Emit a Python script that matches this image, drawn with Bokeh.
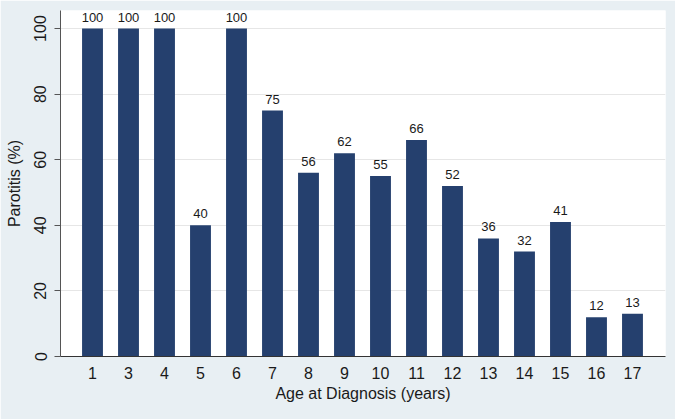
from bokeh.plotting import figure
from bokeh.models import ColumnDataSource, Range1d, FixedTicker, LabelSet
from bokeh.core.properties import value
from bokeh.embed import file_html
from bokeh.resources import INLINE

# Data
ages = ["1", "3", "4", "5", "6", "7", "8", "9", "10", "11", "12", "13", "14", "15", "16", "17"]
parotitis = [100, 100, 100, 40, 100, 75, 56, 62, 55, 66, 52, 36, 32, 41, 12, 13]
y_ticks = [0, 20, 40, 60, 80, 100]

positions = list(range(1, len(ages) + 1))
src = ColumnDataSource(dict(x=positions, y=parotitis, lab=[str(v) for v in parotitis]))

BG = "#E8EFF3"
BAR = "#25406E"
FONT = "Liberation Sans"

p = figure(width=675, height=419, output_backend="svg", toolbar_location=None,
           x_range=Range1d(0.111, 16.917), y_range=Range1d(0, 105.5),
           min_border_left=60, min_border_right=10, min_border_top=10, min_border_bottom=63)
p.background_fill_color = "white"
p.border_fill_color = BG
p.outline_line_color = None

p.vbar(x="x", top="y", width=0.58, source=src, fill_color=BAR, line_color=None)

labels = LabelSet(x="x", y="y", text="lab", source=src, text_align="center",
                  text_baseline="alphabetic", y_offset=7, text_font=value(FONT),
                  text_font_size="13px", text_color="#1a1a1a")
p.add_layout(labels)

# X axis
p.xaxis.ticker = FixedTicker(ticks=positions)
p.xaxis.major_label_overrides = {pos: a for pos, a in zip(positions, ages)}
p.xaxis.major_tick_line_color = None
p.xaxis.minor_tick_line_color = None
p.xaxis.axis_line_color = "#333333"
p.xaxis.major_label_text_font = FONT
p.xaxis.major_label_text_font_size = "16px"
p.xaxis.major_label_text_color = "#1a1a1a"
p.xaxis.major_label_standoff = 4
p.xaxis.axis_label = "Age at Diagnosis (years)"
p.xaxis.axis_label_text_font = FONT
p.xaxis.axis_label_text_font_size = "16px"
p.xaxis.axis_label_text_font_style = "normal"
p.xaxis.axis_label_text_color = "#1a1a1a"
p.xaxis.axis_label_standoff = 3

# Y axis
p.yaxis.ticker = FixedTicker(ticks=y_ticks)
p.yaxis.major_label_orientation = "vertical"
p.yaxis.minor_tick_line_color = None
p.yaxis.major_tick_out = 6
p.yaxis.major_tick_in = 0
p.yaxis.major_tick_line_color = "#555555"
p.yaxis.axis_line_color = "#555555"
p.yaxis.major_label_text_font = FONT
p.yaxis.major_label_text_font_size = "16px"
p.yaxis.major_label_text_color = "#1a1a1a"
p.yaxis.major_label_standoff = 8
p.yaxis.axis_label = "Parotitis (%)"
p.yaxis.axis_label_text_font = FONT
p.yaxis.axis_label_text_font_size = "16px"
p.yaxis.axis_label_text_font_style = "normal"
p.yaxis.axis_label_text_color = "#1a1a1a"
p.yaxis.axis_label_standoff = 9

p.xgrid.grid_line_color = None
p.ygrid.ticker = FixedTicker(ticks=y_ticks[1:])
p.ygrid.grid_line_color = "#E6E6E6"
p.ygrid.grid_line_width = 1

open("out.html", "w").write(file_html(p, INLINE))
